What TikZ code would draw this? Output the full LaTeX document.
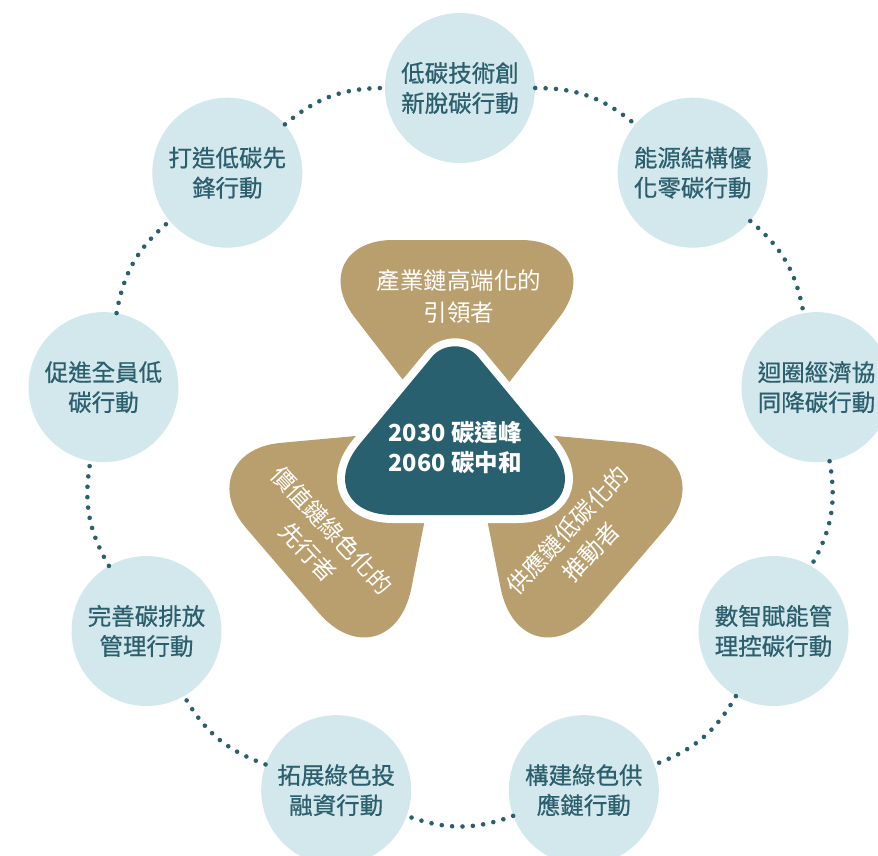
\documentclass[tikz,border=0pt]{standalone}
\usepackage{fontspec}
\newfontfamily\cjk{Noto Sans CJK TC}
\newfontfamily\cjkmid[FakeBold=0.7]{Noto Sans CJK TC}
\usetikzlibrary{calc}
\definecolor{mist}{HTML}{D3E8EC}
\definecolor{slate}{HTML}{2B5F6E}
\definecolor{ochre}{HTML}{B99F6D}
\definecolor{deepteal}{HTML}{29606F}
\def\roundtri[#1](#2:#3)(#4:#5)(#6:#7){\path[#1] ($(#2)!#3pt!(#4)$) -- ($(#4)!#5pt!(#2)$) .. controls ($(#4)!0.5*#5pt!(#2)$) and ($(#4)!0.5*#5pt!(#6)$) .. ($(#4)!#5pt!(#6)$) -- ($(#6)!#7pt!(#4)$) .. controls ($(#6)!0.5*#7pt!(#4)$) and ($(#6)!0.5*#7pt!(#2)$) .. ($(#6)!#7pt!(#2)$) -- ($(#2)!#3pt!(#6)$) .. controls ($(#2)!0.5*#3pt!(#6)$) and ($(#2)!0.5*#3pt!(#4)$) .. ($(#2)!#3pt!(#4)$) -- cycle;}

\begin{document}
\begin{tikzpicture}[x=1pt, y=1pt,
		actbox/.style={circle, fill=mist, minimum size=150pt, inner sep=0pt, align=center, text=slate, font=\cjkmid\fontsize{23.5}{30}\selectfont},
		petaltext/.style={align=center, text=white, font=\cjk\fontsize{23.5}{32}\selectfont},
		dotlink/.style={draw=slate, line width=4.6pt, line cap=round, dash pattern=on 0pt off 10.4pt}]
		%%%%% START %%%%%
		
		\useasboundingbox (0,0) rectangle (878,-856);
		
		\coordinate (hub) at (460,-450);
		\foreach \ang/\txt [count=\i] in {90/{低碳技術創\\新脫碳行動}, 50/{能源結構優\\化零碳行動}, 10/{迴圈經濟協\\同降碳行動}, -30/{數智賦能管\\理控碳行動}, -70/{構建綠色供\\應鏈行動}, -110/{拓展綠色投\\融資行動}, -150/{完善碳排放\\管理行動}, 170/{促進全員低\\碳行動}, 130/{打造低碳先\\鋒行動}}
			\node[actbox] (c\i) at ($(hub)+(\ang:362)$) {\txt};
		
		\foreach \i/\j in {1/2, 2/3, 3/4, 4/5, 5/6, 6/7, 7/8, 8/9, 9/1}
			\draw[dotlink] (c\i) to[bend left=20] (c\j);
		
		% three petals
		\coordinate (T0) at (457,-450);
		\coordinate (T1) at (295,-240);
		\coordinate (T2) at (619,-240);
		\coordinate (L0) at (443,-428);
		\coordinate (L1) at (181,-452);
		\coordinate (L2) at (390,-696);
		\coordinate (R0) at (469,-428);
		\coordinate (R1) at (731,-452);
		\coordinate (R2) at (522,-696);
		\roundtri[fill=ochre](T0:10)(T1:98)(T2:98)
		\roundtri[fill=ochre](L0:10)(L1:100)(L2:110)
		\roundtri[fill=ochre](R0:10)(R1:100)(R2:110)
		
		% core
		\coordinate (A) at (455,-329);
		\coordinate (B) at (301,-515);
		\coordinate (C) at (609,-515);
		\roundtri[fill=deepteal, preaction={draw=white, line width=16pt, line join=round}](A:36)(B:92)(C:92)
		
		\node[petaltext] (lead) at (459,-296) {產業鏈高端化的\\引領者};
		\node[petaltext, rotate=-47] (pioneer) at (320,-541) {價值鏈綠色化的\\先行者};
		\node[petaltext, rotate=47] (driver) at (579,-541) {供應鏈低碳化的\\推動者};
		\node[petaltext, font=\cjk\bfseries\fontsize{23.5}{30}\selectfont] (goal) at (455,-448) {2030 碳達峰\\2060 碳中和};
		
		%%%%% END %%%%%
	\end{tikzpicture}
\end{document}
